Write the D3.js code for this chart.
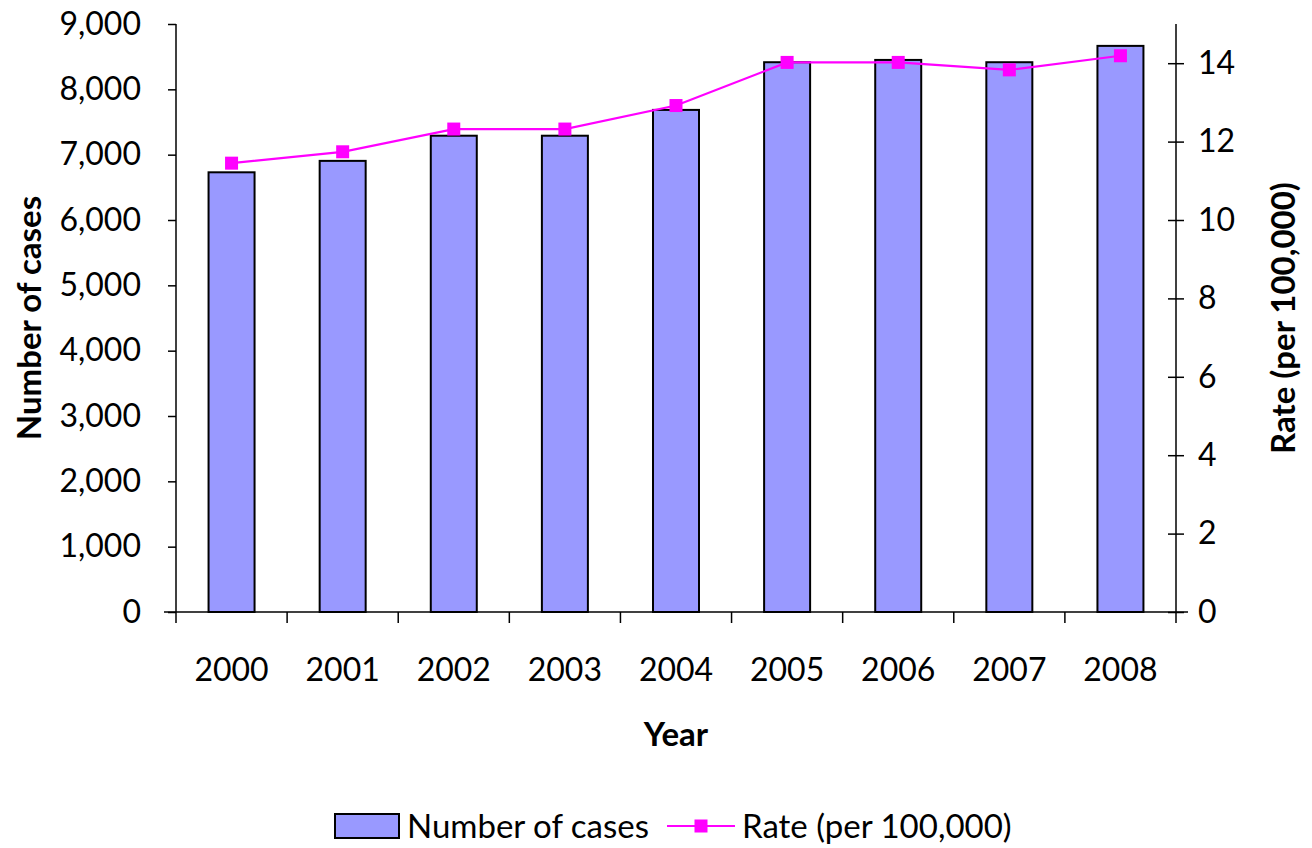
<!DOCTYPE html>
<html>
<head>
<meta charset="utf-8">
<script src="https://cdn.jsdelivr.net/npm/d3@7"></script>
<style>
  html, body { margin: 0; padding: 0; background: #fff; }
  svg { display: block; font-family: Lato, "Open Sans", sans-serif; }
</style>
</head>
<body>
<svg id="chart" width="1312" height="848"></svg>
<script>
// Annual counts and rates, 2000–2008
const years = ["2000", "2001", "2002", "2003", "2004", "2005", "2006", "2007", "2008"];
const cases = [6730, 6905, 7290, 7290, 7685, 8415, 8450, 8415, 8665];
const rates = [11.45, 11.74, 12.32, 12.32, 12.92, 14.02, 14.02, 13.83, 14.19];
const caseTicks = [0, 1000, 2000, 3000, 4000, 5000, 6000, 7000, 8000, 9000];
const rateTicks = [0, 2, 4, 6, 8, 10, 12, 14];

const svg = d3.select("#chart");
const plotLeft = 176, plotRight = 1176, plotTop = 24, plotBottom = 612;
const fontSize = 32;
const titleSize = 33;

const xBand = d3.scaleBand().domain(years).range([plotLeft, plotRight]);
const yL = d3.scaleLinear().domain([0, 9000]).range([plotBottom, plotTop]);
const yR = d3.scaleLinear().domain([0, 15]).range([plotBottom, plotTop]);
const cx = d => xBand(d) + xBand.bandwidth() / 2;
const barW = 46;

// Bars
svg.append("g").selectAll("rect").data(years).join("rect")
  .attr("x", d => cx(d) - barW / 2)
  .attr("width", barW)
  .attr("y", (d, i) => yL(cases[i]))
  .attr("height", (d, i) => plotBottom - yL(cases[i]))
  .attr("fill", "#9999ff")
  .attr("stroke", "#000")
  .attr("stroke-width", 2);

// Left axis
const gL = svg.append("g").attr("transform", `translate(${plotLeft},0)`)
  .call(d3.axisLeft(yL).tickValues(caseTicks).tickFormat(d3.format(",")).tickSize(8).tickPadding(27));
gL.select(".domain").attr("d", `M0,${plotTop}V${plotBottom + 11}`).attr("stroke-width", 1.5);
gL.selectAll(".tick line").attr("stroke-width", 1.5);
gL.selectAll(".tick text").attr("font-size", fontSize).attr("fill", "#000").attr("font-family", "Lato");

// Right axis
const gR = svg.append("g").attr("transform", `translate(${plotRight},0)`)
  .call(d3.axisRight(yR).tickValues(rateTicks).tickSize(8).tickPadding(14));
gR.select(".domain").attr("d", `M0,${plotTop}V${plotBottom + 11}`).attr("stroke-width", 1.5);
gR.selectAll(".tick line").attr("x1", -8).attr("stroke-width", 1.5);
gR.selectAll(".tick text").attr("font-size", fontSize).attr("fill", "#000").attr("font-family", "Lato");

// Bottom axis: line with ticks at category boundaries
const gB = svg.append("g");
gB.append("line").attr("x1", plotLeft - 12).attr("x2", plotRight + 12)
  .attr("y1", plotBottom).attr("y2", plotBottom).attr("stroke", "#000").attr("stroke-width", 1.5);
gB.selectAll("line.tk").data(years.slice(1)).join("line").attr("class", "tk")
  .attr("x1", d => xBand(d)).attr("x2", d => xBand(d))
  .attr("y1", plotBottom).attr("y2", plotBottom + 11).attr("stroke", "#000").attr("stroke-width", 1.5);
gB.selectAll("text").data(years).join("text")
  .attr("x", d => cx(d))
  .attr("y", 681)
  .attr("text-anchor", "middle")
  .attr("font-size", fontSize)
  .text(d => d);

// Rate line with square markers
svg.append("path")
  .datum(years)
  .attr("d", d3.line().x(d => cx(d)).y((d, i) => yR(rates[i])))
  .attr("fill", "none").attr("stroke", "#ff00ff").attr("stroke-width", 2.2);
svg.append("g").selectAll("rect").data(years).join("rect")
  .attr("x", d => cx(d) - 6.5).attr("y", (d, i) => yR(rates[i]) - 6.5)
  .attr("width", 13).attr("height", 13).attr("fill", "#ff00ff");

// Axis titles
svg.append("text").attr("transform", `translate(41,${(plotTop + plotBottom) / 2}) rotate(-90)`)
  .attr("text-anchor", "middle").attr("font-weight", "bold").attr("font-size", titleSize)
  .text("Number of cases");
svg.append("text").attr("transform", `translate(1295,${(plotTop + plotBottom) / 2}) rotate(-90)`)
  .attr("text-anchor", "middle").attr("font-weight", "bold").attr("font-size", titleSize)
  .text("Rate (per 100,000)");
svg.append("text").attr("x", (plotLeft + plotRight) / 2).attr("y", 746)
  .attr("text-anchor", "middle").attr("font-weight", "bold").attr("font-size", titleSize)
  .text("Year");

// Legend
const lg = svg.append("g");
lg.append("rect").attr("x", 335).attr("y", 814).attr("width", 64).attr("height", 24)
  .attr("fill", "#9999ff").attr("stroke", "#000").attr("stroke-width", 2);
lg.append("text").attr("x", 407).attr("y", 838).attr("font-size", 33).text("Number of cases");
lg.append("line").attr("x1", 667).attr("x2", 735).attr("y1", 826).attr("y2", 826)
  .attr("stroke", "#ff00ff").attr("stroke-width", 2.2);
lg.append("rect").attr("x", 694.5).attr("y", 819.5).attr("width", 13).attr("height", 13).attr("fill", "#ff00ff");
lg.append("text").attr("x", 742).attr("y", 838).attr("font-size", 33).text("Rate (per 100,000)");
</script>
</body>
</html>
